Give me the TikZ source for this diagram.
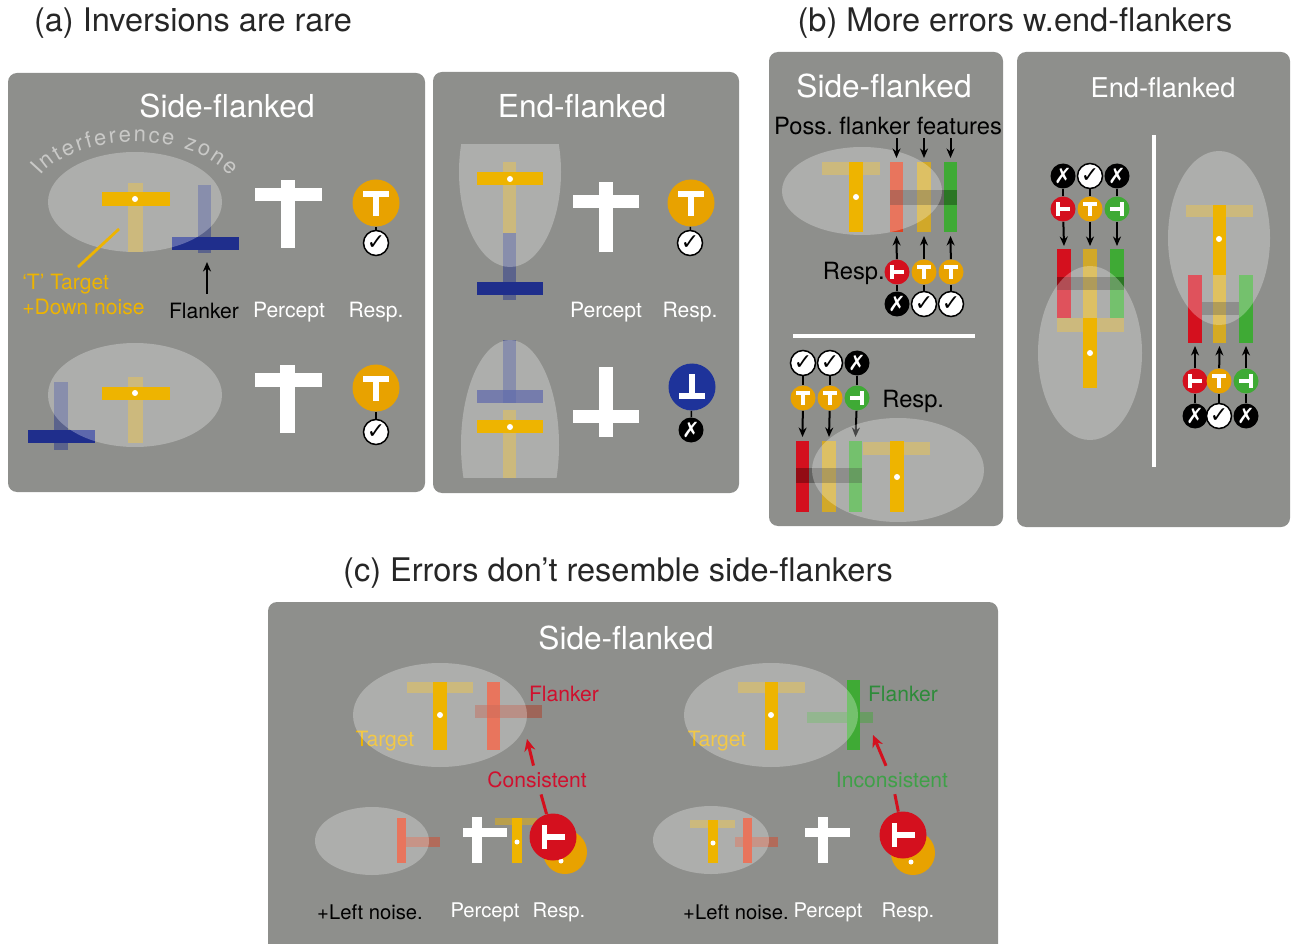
\documentclass[tikz,border=0pt]{standalone}
\usepackage{fontspec}
\setmainfont{TeX Gyre Heros}
\newfontfamily\tickfont{DejaVu Sans}
\usetikzlibrary{arrows.meta,decorations.text}
\frenchspacing
\definecolor{panelgray}{HTML}{8E8F8C}
\definecolor{zonetext}{HTML}{C9C9C7}
\definecolor{tyellow}{HTML}{EEB400}
\definecolor{respyellow}{HTML}{E8A200}
\definecolor{fblue}{HTML}{1F2E8C}
\definecolor{rblue}{HTML}{1E339A}
\definecolor{fred}{HTML}{E0401F}
\definecolor{rred}{HTML}{D4101E}
\definecolor{fgreen}{HTML}{3FAA35}
\definecolor{lblred}{HTML}{D0102E}
\definecolor{lblgreen}{HTML}{2E8B3A}
\definecolor{incgreen}{HTML}{3FA048}
% white T glyph inside a response disc
\newcommand{\tglyph}[3]{%
  \begin{scope}[shift={(#1)},rotate=#2,scale=#3]
    \fill[white] (-13,-12) rectangle (13,-6);
    \fill[white] (-3,-12) rectangle (3,13);
  \end{scope}}
\tikzset{
  panel/.style={fill=panelgray,rounded corners=1.8mm},
  zone/.style={fill=white,fill opacity=0.28},
  faint/.style={fill opacity=0.45},
  veil/.style={fill=black,fill opacity=0.3},
  ttl/.style={font=\fontsize{18.5}{22}\selectfont,text=black!85,inner sep=0},
  sub/.style={font=\fontsize{18}{22}\selectfont,text=white,inner sep=0},
  lbl/.style={font=\fontsize{12}{14.2}\selectfont,inner sep=0},
  bigdisc/.style={circle,inner sep=0,minimum size=9.4mm},
  disc/.style={circle,inner sep=0,minimum size=5mm},
  ok/.style={circle,inner sep=0,minimum size=5mm,fill=white,draw=black,line width=0.3mm,font=\tickfont\fontsize{12.5}{12}\selectfont},
  bad/.style={circle,inner sep=0,minimum size=5mm,fill=black,text=white,font=\tickfont\fontsize{12}{12}\selectfont},
  link/.style={line width=0.3mm},
  arr/.style={line width=0.4mm,-{Stealth[length=1.9mm,width=1.6mm]}},
  redarr/.style={rred,line width=0.6mm}
}
\begin{document}
\begin{tikzpicture}[x=0.2mm,y=-0.2mm,>=Stealth]
  \path[use as bounding box,clip] (0,0) rectangle (1295,944);

  % grey panels
  \fill[panel] (8,73) rectangle (425,492);
  \fill[panel] (433,72) rectangle (739,493);
  \fill[panel] (769,52) rectangle (1003,526);
  \fill[panel] (1017,52) rectangle (1290,527);
  \fill[panel] (268,602) rectangle (998,990);

  \node[ttl] (ta) at (193,23) {(a) Inversions are rare};
  \node[ttl] (tb) at (1015,23) {(b) More errors w.end-flankers};
  \node[ttl] (tc) at (618,573) {(c) Errors don't resemble side-flankers};

  \node[sub] (sa) at (227,106) {Side-flanked};
  \node[sub] (ea) at (582,106) {End-flanked};
  \node[sub] (sb) at (884,86) {Side-flanked};
  \node[sub,font=\fontsize{15.5}{18}\selectfont] (eb) at (1163,88) {End-flanked};
  \node[sub] (sc) at (626,638) {Side-flanked};

  % (a) side-flanked, upper row
  \fill[tyellow,faint] (128,183) rectangle (143,252);
  \fill[fblue,faint] (198,185) rectangle (211,253);
  \fill[fblue] (172,237) rectangle (239,250);
  \fill[zone] (135,202) ellipse[x radius=87,y radius=50];
  \fill[tyellow] (102,192) rectangle (170,206);
  \fill[white] (135,199) circle[radius=3];
  \path[decorate,decoration={text along path,text align={fit to path},text color=zonetext,
    text={|\fontsize{12.5}{14}\selectfont|Interference zone}}]
    (40.4,176) arc[start angle=204.5,end angle=335.5,x radius=104,y radius=58];
  \node[lbl,text=tyellow,align=left,anchor=north west] (tgt) at (22,274) {`T' Target\\+Down noise};
  \coordinate (tgtfoot) at (78,267);
  \coordinate (tgtstem) at (119,229);
  \draw[tyellow,line width=0.55mm] (tgtfoot) -- (tgtstem);
  \node[lbl] (flk) at (204,311) {Flanker};
  \coordinate (flktip) at (207,262);
  \draw[arr,shorten <=1.8mm] (flk.north -| flktip) -- (flktip);
  \node[lbl,text=white] (pca1) at (289,312) {Percept};
  \node[lbl,text=white] (rsa1) at (376,312) {Resp.};
  \fill[white] (255,188) rectangle (322,201);
  \fill[white] (281,180) rectangle (295,248);
  \node[bigdisc,fill=respyellow] (ra1) at (376,203) {};
  \tglyph{ra1}{0}{1}
  \node[ok] (ca1) at (376,243) {✓};
  \draw[link] (ra1) -- (ca1);

  % (a) side-flanked, lower row
  \fill[fblue,faint] (54,382) rectangle (68,450);
  \fill[fblue] (28,430) rectangle (95,443);
  \fill[tyellow,faint] (128,377) rectangle (143,443);
  \fill[zone] (135,395) ellipse[x radius=87,y radius=52];
  \fill[tyellow] (102,387) rectangle (170,400);
  \fill[white] (135,393) circle[radius=3];
  \fill[white] (255,373) rectangle (322,387);
  \fill[white] (280,365) rectangle (295,433);
  \node[bigdisc,fill=respyellow] (ra2) at (376,388) {};
  \tglyph{ra2}{0}{1}
  \node[ok] (ca2) at (376,432) {✓};
  \draw[link] (ra2) -- (ca2);

  % (a) end-flanked, upper row
  \fill[tyellow,faint] (503,162) rectangle (516,233);
  \fill[fblue,faint] (503,233) rectangle (516,300);
  \fill[fblue] (477,282) rectangle (543,295);
  \begin{scope}
    \clip (440,145) rectangle (580,320);
    \fill[zone] (510,172) ellipse[x radius=51,y radius=95];
  \end{scope}
  \fill[tyellow] (477,172) rectangle (543,185);
  \fill[white] (510,179) circle[radius=3];
  \fill[white] (573,195) rectangle (639,208);
  \fill[white] (599,182) rectangle (613,252);
  \node[bigdisc,fill=respyellow] (ra3) at (691,203) {};
  \tglyph{ra3}{0}{1}
  \node[ok] (ca3) at (690,243) {✓};
  \draw[link] (ra3) -- (ca3);
  \node[lbl,text=white] (pca3) at (606,312) {Percept};
  \node[lbl,text=white] (rsa3) at (690,312) {Resp.};

  % (a) end-flanked, lower row
  \fill[fblue,faint] (503,340) rectangle (516,403);
  \fill[fblue,fill opacity=0.7] (477,390) rectangle (543,403);
  \fill[tyellow,faint] (503,410) rectangle (516,478);
  \begin{scope}
    \clip (440,320) rectangle (580,477);
    \fill[zone] (510,445) ellipse[x radius=49,y radius=105];
  \end{scope}
  \fill[tyellow] (477,420) rectangle (543,433);
  \fill[white] (510,427) circle[radius=3];
  \fill[white] (573,410) rectangle (639,423);
  \fill[white] (599,367) rectangle (613,437);
  \node[bigdisc,fill=rblue] (ra4) at (692,387) {};
  \tglyph{ra4}{180}{1}
  \node[bad] (ca4) at (691,430) {✗};
  \draw[link] (ra4) -- (ca4);

  % (b) side-flanked, upper half
  \fill[tyellow,faint] (822,162) rectangle (880,175);
  \fill[fred] (890,162) rectangle (903,232);
  \fill[tyellow,fill opacity=0.7] (917,162) rectangle (931,232);
  \fill[fgreen] (944,162) rectangle (957,232);
  \fill[veil] (890,190) rectangle (957,205);
  \fill[zone] (862,191) ellipse[x radius=80,y radius=44];
  \fill[tyellow] (849,162) rectangle (863,232);
  \fill[white] (856,197) circle[radius=3];
  \node[lbl,font=\fontsize{13.5}{16}\selectfont] (pff) at (888,126) {Poss. flanker features};
  \foreach \x [count=\i] in {896.5,924,950.5}
    \coordinate (bf\i) at (\x,158);
  \foreach \i in {1,2,3}
    \draw[arr,shorten <=0.6mm] (pff.south -| bf\i) -- (bf\i);
  \node[lbl,font=\fontsize{13.5}{16}\selectfont,anchor=east] (rsb1) at (885,273) {Resp.};
  \node[disc,fill=rred] (rb1) at (897,272) {};
  \node[disc,fill=respyellow] (rb2) at (924,272) {};
  \node[disc,fill=respyellow] (rb3) at (951,272) {};
  \tglyph{rb1}{90}{0.55}
  \tglyph{rb2}{0}{0.55}
  \tglyph{rb3}{0}{0.55}
  \node[bad] (cb1) at (897,304) {✗};
  \node[ok] (cb2) at (924,304) {✓};
  \node[ok] (cb3) at (951,304) {✓};
  \foreach \x [count=\i] in {896.5,924,950.5}
    \coordinate (bu\i) at (\x,236);
  \foreach \i in {1,2,3} {
    \draw[link] (rb\i) -- (cb\i);
    \draw[arr] (rb\i) -- (bu\i);
  }
  \draw[white,line width=0.8mm] (793,336) -- (975,336);

  % (b) side-flanked, lower half
  \node[ok] (cb4) at (803,363) {✓};
  \node[ok] (cb5) at (830,363) {✓};
  \node[bad] (cb6) at (857,363) {✗};
  \node[disc,fill=respyellow] (rb4) at (803,398) {};
  \node[disc,fill=respyellow] (rb5) at (830,398) {};
  \node[disc,fill=fgreen] (rb6) at (857,398) {};
  \tglyph{rb4}{0}{0.55}
  \tglyph{rb5}{0}{0.55}
  \tglyph{rb6}{-90}{0.55}
  \node[lbl,font=\fontsize{13.5}{16}\selectfont,anchor=west] (rsb2) at (882,401) {Resp.};
  \foreach \x [count=\i from 4] in {802.5,829,855.5}
    \coordinate (bd\i) at (\x,437);
  \foreach \i in {4,5,6} {
    \draw[link] (rb\i) -- (cb\i);
    \draw[arr] (rb\i) -- (bd\i);
  }
  \fill[rred] (796,441) rectangle (809,512);
  \fill[tyellow,fill opacity=0.7] (822,441) rectangle (836,512);
  \fill[fgreen] (849,441) rectangle (862,512);
  \fill[veil] (796,468) rectangle (862,483);
  \fill[tyellow,faint] (863,442) rectangle (930,455);
  \fill[zone] (898,470) ellipse[x radius=86,y radius=52];
  \fill[tyellow] (890,441) rectangle (904,512);
  \fill[white] (897,477) circle[radius=3];

  % (b) end-flanked
  \draw[white,line width=0.8mm] (1154,135) -- (1154,467);
  \node[bad] (cc1) at (1063,176) {✗};
  \node[ok] (cc2) at (1090,176) {✓};
  \node[bad] (cc3) at (1117,176) {✗};
  \node[disc,fill=rred] (rc1) at (1063,209) {};
  \node[disc,fill=respyellow] (rc2) at (1090,209) {};
  \node[disc,fill=fgreen] (rc3) at (1117,209) {};
  \tglyph{rc1}{90}{0.55}
  \tglyph{rc2}{0}{0.55}
  \tglyph{rc3}{-90}{0.55}
  \foreach \x [count=\i] in {1064,1090,1117}
    \coordinate (be\i) at (\x,246);
  \foreach \i in {1,2,3} {
    \draw[link] (rc\i) -- (cc\i);
    \draw[arr] (rc\i) -- (be\i);
  }
  \fill[rred] (1057,249) rectangle (1071,318);
  \fill[tyellow,fill opacity=0.7] (1083,249) rectangle (1097,318);
  \fill[fgreen] (1110,249) rectangle (1124,318);
  \fill[veil] (1057,277) rectangle (1124,290);
  \fill[tyellow,faint] (1057,318) rectangle (1124,332);
  \fill[zone] (1090,353) ellipse[x radius=52,y radius=87];
  \fill[tyellow] (1083,318) rectangle (1097,388);
  \fill[white] (1090,353) circle[radius=3];

  \fill[tyellow,faint] (1186,205) rectangle (1253,217);
  \fill[tyellow,fill opacity=0.75] (1213,275) rectangle (1226,343);
  \fill[rred] (1188,275) rectangle (1202,343);
  \fill[fgreen] (1239,275) rectangle (1253,343);
  \fill[veil] (1202,302) rectangle (1239,315);
  \fill[zone] (1219,238) ellipse[x radius=51,y radius=87];
  \fill[tyellow] (1213,205) rectangle (1226,275);
  \fill[white] (1219,239) circle[radius=3];
  \node[disc,fill=rred] (rd1) at (1195,381) {};
  \node[disc,fill=respyellow] (rd2) at (1219,381) {};
  \node[disc,fill=fgreen] (rd3) at (1246,381) {};
  \tglyph{rd1}{90}{0.55}
  \tglyph{rd2}{0}{0.55}
  \tglyph{rd3}{-90}{0.55}
  \node[bad] (cd1) at (1195,416) {✗};
  \node[ok] (cd2) at (1219,416) {✓};
  \node[bad] (cd3) at (1246,416) {✗};
  \foreach \x [count=\i] in {1195,1219.5,1246}
    \coordinate (bg\i) at (\x,346);
  \foreach \i in {1,2,3} {
    \draw[link] (rd\i) -- (cd\i);
    \draw[arr] (rd\i) -- (bg\i);
  }

  % (c) consistent flanker
  \node[lbl,text=tyellow] (tgc1) at (385,741) {Target};
  \fill[tyellow,faint] (407,682) rectangle (473,693);
  \fill[fred] (487,682) rectangle (500,750);
  \fill[fred!80!black,faint] (475,705) rectangle (542,718);
  \fill[zone] (440,715) ellipse[x radius=87,y radius=52];
  \fill[tyellow] (433,682) rectangle (447,750);
  \fill[white] (440,715) circle[radius=3];
  \node[lbl,text=lblred] (flc1) at (564,694) {Flanker};
  \fill[fred,faint] (405,837) rectangle (440,847);
  \fill[fred] (397,818) rectangle (406,863);
  \fill[zone] (372,841) ellipse[x radius=57,y radius=34];
  \fill[white] (463,828) rectangle (507,837);
  \fill[white] (472,817) rectangle (482,863);
  \fill[tyellow,faint] (495,818) rectangle (537,825);
  \fill[tyellow] (512,818) rectangle (522,863);
  \fill[white] (517,842) circle[radius=2.5];
  \fill[respyellow] (565,852) circle[radius=22];
  \fill[white] (561,861) circle[radius=2.5];
  \node[bigdisc,fill=rred] (rC1) at (553,837) {};
  \tglyph{rC1}{90}{0.95}
  \node[lbl,text=lblred,inner sep=1.2mm] (cons) at (537,780) {Consistent};
  \coordinate (tipC1) at (527,739);
  \draw[redarr] (rC1) -- (cons);
  \draw[redarr,-{Stealth[length=2.4mm,width=2.2mm]}] (cons) -- (tipC1);
  \node[lbl,font=\fontsize{11.5}{14}\selectfont] (lnc1) at (370,912) {+Left noise.};
  \node[lbl,font=\fontsize{11.5}{14}\selectfont,text=white] (pcc1) at (485,912) {Percept};
  \node[lbl,font=\fontsize{11.5}{14}\selectfont,text=white] (rsc1) at (559,912) {Resp.};

  % (c) inconsistent flanker
  \node[lbl,text=tyellow] (tgc2) at (717,741) {Target};
  \fill[tyellow,faint] (738,682) rectangle (805,693);
  \fill[fgreen,faint] (807,712) rectangle (873,723);
  \fill[fgreen] (847,680) rectangle (860,750);
  \fill[zone] (771,715) ellipse[x radius=87,y radius=52];
  \fill[tyellow] (765,682) rectangle (778,750);
  \fill[white] (771,715) circle[radius=3];
  \node[lbl,text=lblgreen] (flc2) at (903,694) {Flanker};
  \fill[tyellow,faint] (690,820) rectangle (735,828);
  \fill[fred,faint] (735,837) rectangle (778,847);
  \fill[fred] (743,818) rectangle (752,863);
  \fill[zone] (711,840) ellipse[x radius=58,y radius=34];
  \fill[tyellow] (708,820) rectangle (718,863);
  \fill[white] (713,843) circle[radius=2.5];
  \fill[white] (805,828) rectangle (850,837);
  \fill[white] (818,817) rectangle (828,863);
  \fill[respyellow] (913,853) circle[radius=22];
  \fill[white] (911,862) circle[radius=2.5];
  \node[bigdisc,fill=rred] (rC2) at (903,835) {};
  \tglyph{rC2}{90}{0.95}
  \node[lbl,text=incgreen,inner sep=1.2mm] (incons) at (892,780) {Inconsistent};
  \coordinate (tipC2) at (873,735);
  \draw[redarr] (rC2) -- (incons);
  \draw[redarr,-{Stealth[length=2.4mm,width=2.2mm]}] (incons) -- (tipC2);
  \node[lbl,font=\fontsize{11.5}{14}\selectfont] (lnc2) at (736,912) {+Left noise.};
  \node[lbl,font=\fontsize{11.5}{14}\selectfont,text=white] (pcc2) at (828,912) {Percept};
  \node[lbl,font=\fontsize{11.5}{14}\selectfont,text=white] (rsc2) at (908,912) {Resp.};
\end{tikzpicture}
\end{document}
